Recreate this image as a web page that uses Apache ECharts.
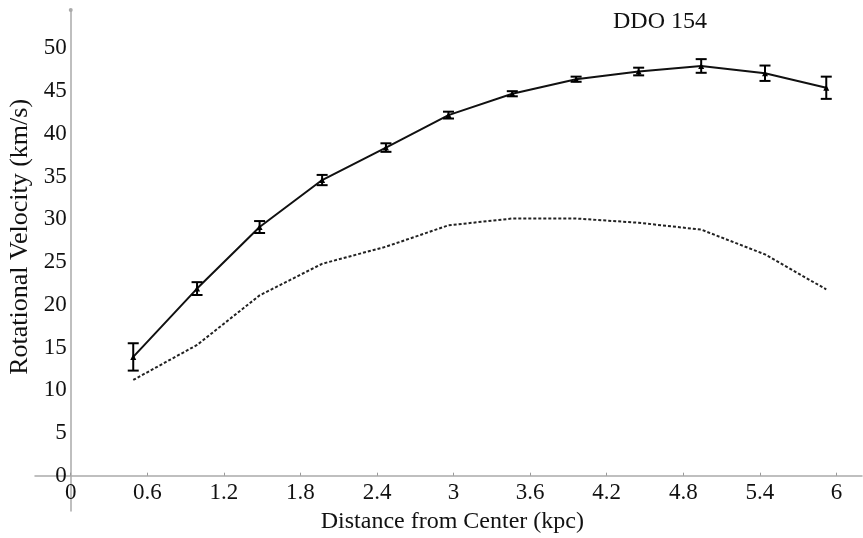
<!DOCTYPE html>
<html>
<head>
<meta charset="utf-8">
<script src="https://cdn.jsdelivr.net/npm/echarts@6/dist/echarts.min.js"></script>
<style>html,body{margin:0;padding:0;background:#fff}#c{width:863px;height:538px}</style>
</head>
<body>
<div id="c"></div>
<script>
// Distance from center (kpc)
const radius = [0.49, 0.99, 1.48, 1.97, 2.47, 2.96, 3.46, 3.96, 4.45, 4.94, 5.44, 5.92];
// Observed rotational velocity (km/s)
const vObserved = [13.9, 21.9, 29.1, 34.6, 38.4, 42.2, 44.7, 46.4, 47.3, 47.95, 47.1, 45.4];
// Error bar half-length (km/s)
const vError = [1.6, 0.75, 0.7, 0.6, 0.5, 0.4, 0.3, 0.3, 0.45, 0.8, 0.9, 1.3];
// Model curve (dotted)
const vModel = [11.2, 15.3, 21.1, 24.8, 26.8, 29.3, 30.1, 30.1, 29.6, 28.8, 25.9, 21.8];
// Tick labels
const xTicks = [0, 0.6, 1.2, 1.8, 2.4, 3, 3.6, 4.2, 4.8, 5.4, 6];
const yTicks = [0, 5, 10, 15, 20, 25, 30, 35, 40, 45, 50];

const FONT = '"Liberation Serif", "DejaVu Serif", serif';
const chart = echarts.init(document.getElementById('c'), null, {renderer: 'canvas'});

const obsData = radius.map((r, i) => [r, vObserved[i]]);
const modelData = radius.map((r, i) => [r, vModel[i]]);
const errData = radius.map((r, i) => [r, vObserved[i] - vError[i], vObserved[i] + vError[i]]);

const X_MAX = 6.2, Y_MAX = 54.5;

chart.setOption({
  animation: false,
  title: {
    text: 'DDO 154',
    left: 613, top: 10, padding: 0,
    textStyle: {fontFamily: FONT, fontSize: 24, fontWeight: 'normal', color: '#111'}
  },
  grid: [
    // main plotting grid (origin at the axis crossing)
    {left: 70.7, right: 1, top: 10, bottom: 62.3, outerBoundsMode: 'none', containLabel: false},
    // axis-line grid (axes extend past the origin)
    {left: 35, right: 1, top: 10, bottom: 27, outerBoundsMode: 'none', containLabel: false}
  ],
  xAxis: [
    {
      gridIndex: 0, type: 'value', min: 0, max: X_MAX,
      name: 'Distance from Center (kpc)', nameLocation: 'middle', nameGap: 32,
      nameTextStyle: {fontFamily: FONT, fontSize: 24, color: '#111', padding: [0, 28, 0, 0]},
      axisLine: {show: false},
      axisTick: {show: true, inside: true, length: 3, customValues: xTicks, lineStyle: {color: '#999'}},
      axisLabel: {customValues: xTicks, formatter: v => String(v), fontFamily: FONT, fontSize: 23, color: '#111', margin: 6},
      splitLine: {show: false}
    },
    {
      gridIndex: 1, type: 'value', min: -0.28, max: X_MAX,
      axisLine: {show: true, onZero: true, lineStyle: {color: '#aaa', width: 1.5}},
      axisTick: {show: false}, axisLabel: {show: false}, splitLine: {show: false}
    }
  ],
  yAxis: [
    {
      gridIndex: 0, type: 'value', min: 0, max: Y_MAX,
      name: 'Rotational Velocity (km/s)', nameLocation: 'middle', nameGap: 36,
      nameTextStyle: {fontFamily: FONT, fontSize: 26, color: '#111', padding: [0, 0, 0, 12]},
      axisLine: {show: false},
      axisTick: {show: false},
      axisLabel: {customValues: yTicks, formatter: v => String(v), fontFamily: FONT, fontSize: 23, color: '#111', margin: 4},
      splitLine: {show: false}
    },
    {
      gridIndex: 1, type: 'value', min: -4.1, max: Y_MAX,
      axisLine: {show: true, onZero: true, symbol: ['none', 'circle'], symbolSize: [4, 4], lineStyle: {color: '#aaa', width: 1.5}},
      axisTick: {show: false}, axisLabel: {show: false}, splitLine: {show: false}
    }
  ],
  series: [
    {
      type: 'line', xAxisIndex: 0, yAxisIndex: 0, data: modelData, symbol: 'none',
      lineStyle: {color: '#222', width: 2, type: [3, 2]}, z: 2
    },
    {
      type: 'line', xAxisIndex: 0, yAxisIndex: 0, data: obsData, symbol: 'triangle', symbolSize: 6,
      itemStyle: {color: '#000'}, lineStyle: {color: '#111', width: 2}, z: 3
    },
    {
      type: 'custom', xAxisIndex: 0, yAxisIndex: 0, data: errData, z: 4,
      renderItem: function (params, api) {
        const x = api.value(0);
        const lo = api.coord([x, api.value(1)]);
        const hi = api.coord([x, api.value(2)]);
        const cw = 5.5;
        const st = {stroke: '#000', lineWidth: 2};
        return {
          type: 'group',
          children: [
            {type: 'line', shape: {x1: lo[0], y1: lo[1], x2: hi[0], y2: hi[1]}, style: st},
            {type: 'line', shape: {x1: lo[0] - cw, y1: lo[1], x2: lo[0] + cw, y2: lo[1]}, style: st},
            {type: 'line', shape: {x1: hi[0] - cw, y1: hi[1], x2: hi[0] + cw, y2: hi[1]}, style: st}
          ]
        };
      }
    }
  ]
});
</script>
</body>
</html>
